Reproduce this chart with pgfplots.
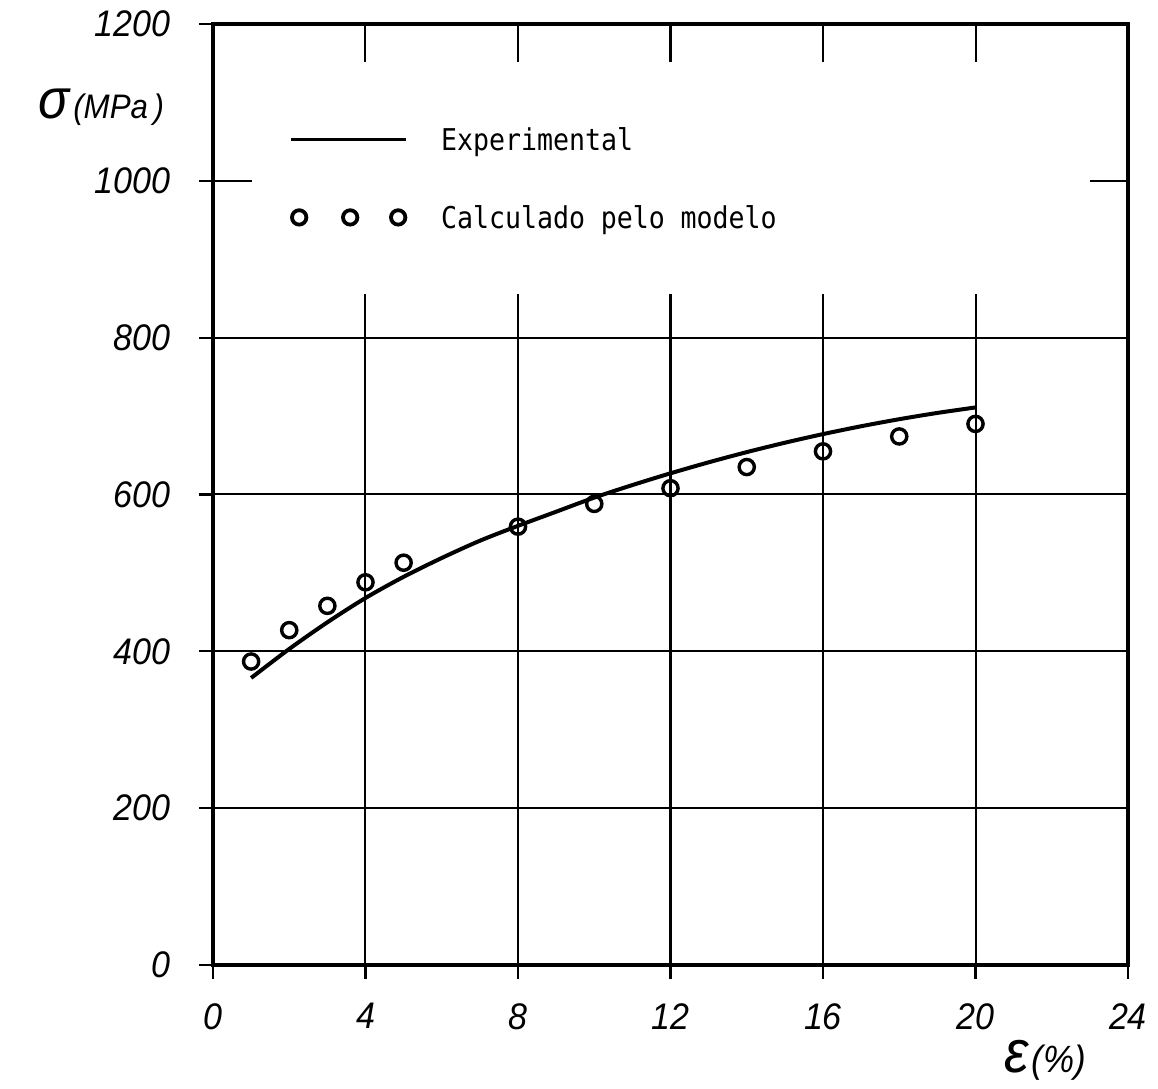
\documentclass[border=0pt]{standalone}
\usepackage{pgfplots}
\pgfplotsset{compat=1.18}
\usepackage{fontspec}
\setmainfont{Liberation Sans}
\newfontfamily\tickfont[FakeStretch=0.92]{Liberation Sans}
\newfontfamily\legfont[FakeStretch=0.886]{DejaVu Sans Mono}
\newcommand{\msp}{\makebox[7.9pt]{}}

\pgfplotstableread{
x y
1 366
2 403
3 437
4 468
5 495
6 519
7 541
8 560
9 578
10 596
11 612
12 627
13 641
14 654
15 666
16 677
17 687
18 696
19 704
20 711
}\experimental

\pgfplotstableread{
x y
1 387
2 427
3 458
4 488
5 513
8 559
10 588
12 608
14 635
16 655
18 674
20 690
}\modelo

\begin{document}
\begin{tikzpicture}
\begin{axis}[
  scale only axis, width=457.5pt, height=470.5pt,
  xmin=0, xmax=24, ymin=0, ymax=1200,
  xtick={0,4,8,12,16,20,24}, ytick={0,200,400,600,800,1000,1200},
  tick pos=left, tick align=outside, major tick length=7pt,
  grid=major, grid style={line width=1pt, black},
  axis line style={line width=2.2pt, line cap=rect},
  major tick style={line width=1.1pt, black},
  ticklabel style={font=\tickfont\itshape\fontsize{18.5}{21}\selectfont},
  /pgf/number format/assume math mode=true,
  /pgf/number format/1000 sep={},
  xticklabel style={inner sep=0pt, anchor=north, yshift=-12pt},
  yticklabel style={inner sep=0pt, anchor=east, xshift=-14pt},
  every axis y label/.style={at={(axis description cs:-0.198,0.912)}, anchor=west},
  every axis x label/.style={at={(axis description cs:0.857,-0.101)}, anchor=west},
  ylabel={\tickfont\itshape{\fontsize{28}{30}\selectfont σ}\,{\fontsize{17}{20}\selectfont (MPa\,)}},
  xlabel={\tickfont\itshape{\fontsize{30}{32}\selectfont ε}\,{\fontsize{19}{22}\selectfont (\%)}},
  legend style={at={(axis cs:1.02,1151.5)}, anchor=north west, fill=white, draw=none,
    inner xsep=18.5pt, inner ysep=33pt, row sep=28pt, column sep=16.5pt,
    font=\legfont\fontsize{15}{18}\selectfont,
    nodes={text height=11pt, text depth=0pt, inner sep=0pt, text width=306pt, anchor=base west}},
]
\addplot[line width=2pt, smooth, black,
  legend image code/.code={\draw[line width=1.9pt] (0pt,5.5pt) -- (57.5pt,5.5pt);}]
  table[x=x,y=y] {\experimental};
\addlegendentry{Experimental}
\addplot[only marks, mark=o, mark size=3.8pt, black, mark options={line width=1.7pt},
  legend image code/.code={\draw[black, only marks, mark=o, mark size=3.6pt, mark options={line width=1.9pt}] plot coordinates {(4pt,5.5pt) (29.5pt,5.5pt) (53.5pt,5.5pt)};}]
  table[x=x,y=y] {\modelo};
\addlegendentry{Calculado\msp pelo\msp modelo}
\end{axis}
\path ([xshift=-106.5pt,yshift=-62pt]current axis.south west) rectangle ([xshift=15pt,yshift=12pt]current axis.north east);
\end{tikzpicture}
\end{document}
